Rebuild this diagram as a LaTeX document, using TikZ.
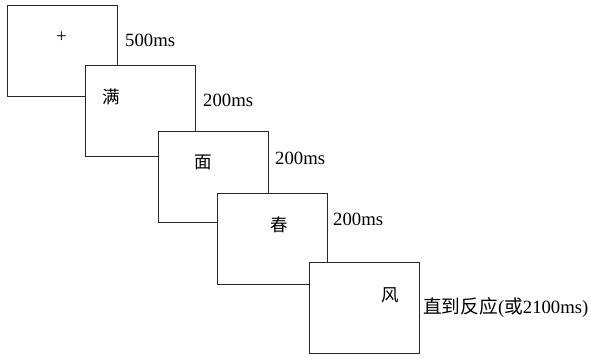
\documentclass[tikz,border=0pt]{standalone}
\usepackage{fontspec}
\setmainfont{Liberation Serif}
\newfontfamily\cjk{Noto Sans CJK SC}
\begin{document}
\begin{tikzpicture}[x=1pt,y=-1pt,
  screen/.style={draw=black!85,line width=0.8pt,fill=white,rectangle,anchor=north west,minimum width=110pt,minimum height=91pt,inner sep=0pt,outer sep=0pt},
  stim/.style={font=\fontsize{17.5}{17.5}\selectfont\cjk,inner sep=0pt},
  dur/.style={font=\fontsize{18.7}{18.7}\selectfont,anchor=base west,inner sep=0pt}]
\useasboundingbox (0,0) rectangle (589,357);
\node[screen] (s1) at (7,5) {};
\node[screen] (s2) at (85,65) {};
\node[screen] (s3) at (158,131) {};
\node[screen] (s4) at (217,193) {};
\node[screen] (s5) at (309,262) {};
\node[font=\fontsize{19}{19}\selectfont,inner sep=0pt] (c1) at (61.5,37) {+};
\node[stim] (c2) at (111,96.5) {满};
\node[stim] (c3) at (203.5,162.5) {面};
\node[stim] (c4) at (279,225) {春};
\node[stim] (c5) at (390,295) {风};
\node[dur] (d1) at (125,46) {500ms};
\node[dur] (d2) at (203,106) {200ms};
\node[dur] (d3) at (275,164) {200ms};
\node[dur] (d4) at (333,225) {200ms};
\node[dur] (d5) at (423,313) {{\cjk 直到反应}({\cjk 或}2100ms)};
\end{tikzpicture}
\end{document}
